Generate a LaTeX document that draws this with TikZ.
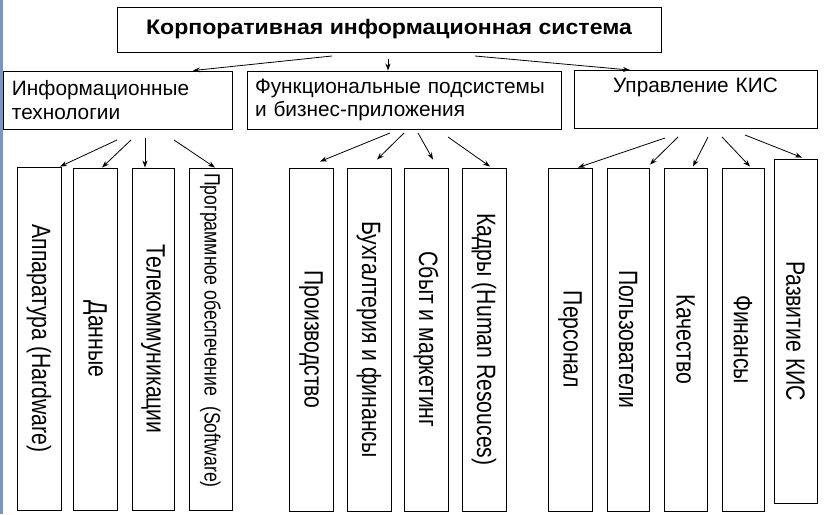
\documentclass[tikz,border=0pt]{standalone}
\usepackage{graphicx}
\usepackage{fontspec}
\setmainfont{Liberation Sans}
\usetikzlibrary{arrows.meta,calc}
\definecolor{stripblue}{RGB}{120,150,190}
\newcommand{\stretchv}[1]{\scalebox{1}[1.25]{#1}}
\begin{document}
\begin{tikzpicture}[x=1pt,y=-1pt,
  hbox/.style={draw, line width=0.9pt, inner ysep=0pt},
  vbox/.style={draw, line width=0.9pt, rotate=-90, inner sep=0pt,
    minimum height=44pt, font=\fontsize{21.2}{24}\selectfont},
  arr/.style={line width=0.8pt, -{Stealth[length=7pt,width=5pt]}}]
\useasboundingbox (0,0) rectangle (829,514);
\fill[stripblue] (0,0) rectangle (3,514);
% top
\node[hbox, minimum width=544pt, minimum height=45pt, font=\fontsize{21}{24}\selectfont\bfseries] (T) at (389,29.5) {\scalebox{1.1}[1]{Корпоративная информационная система}};
% level 2
\node[hbox, minimum height=58pt, inner xsep=9pt, text width=211pt, align=left, font=\fontsize{20.8}{23.5}\selectfont] (L) at (117.5,100) {\raisebox{-2pt}{Информационные}\\\raisebox{-2pt}{технологии}};
\node[hbox, minimum height=58pt, inner xsep=8pt, text width=298pt, align=left, font=\fontsize{20.8}{23.5}\selectfont] (M) at (404,100) {\raisebox{-2pt}{Функциональные подсистемы}\\\raisebox{-2pt}{и бизнес-приложения}};
\node[hbox, minimum height=58pt, inner xsep=0pt, text width=243pt, align=center, font=\fontsize{20.8}{23.5}\selectfont] (R) at (695.5,99.5) {\raisebox{-3pt}{Управление КИС}\\\strut};
% vertical boxes
\node[vbox, minimum width=343pt] (a1) at (39,338.5) {\stretchv{Аппаратура (Hardware)}};
\node[vbox, minimum width=342pt] (a2) at (95,339) {\stretchv{Данные}};
\node[vbox, minimum width=342pt, minimum height=42pt] (a3) at (153,339) {\stretchv{Телекоммуникации}};
\node[vbox, minimum width=342pt, minimum height=43pt, font=\fontsize{17.7}{20}\selectfont] (a4) at (210.5,339) {\stretchv{Программное обеспечение~~(Software)\hspace{17pt}}};
\node[vbox, minimum width=343pt] (b1) at (311,339.5) {\stretchv{Производство}};
\node[vbox, minimum width=343pt] (b2) at (369,339.5) {\stretchv{Бухгалтерия и финансы}};
\node[vbox, minimum width=343pt] (b3) at (426,339.5) {\stretchv{Сбыт и маркетинг}};
\node[vbox, minimum width=343pt] (b4) at (484,339.5) {\stretchv{Кадры (Human Resouces)}};
\node[vbox, minimum width=343pt] (c1) at (570,339.5) {\stretchv{Персонал}};
\node[vbox, minimum width=343pt, minimum height=42pt] (c2) at (628,339.5) {\stretchv{Пользователи}};
\node[vbox, minimum width=343pt, minimum height=43pt] (c3) at (685.5,339.5) {\stretchv{Качество}};
\node[vbox, minimum width=343pt, minimum height=42pt] (c4) at (743,339.5) {\stretchv{Финансы}};
\node[vbox, minimum width=344pt, minimum height=43pt] (c5) at (795.5,331) {\stretchv{Развитие КИС}};
% connector starts
\coordinate (t1) at (332,56);
\coordinate (t2) at (388,59);
\coordinate (t3) at (475,56);
\coordinate (l1) at (117,140);
\coordinate (l2) at (131,140);
\coordinate (l3) at (145,138);
\coordinate (l4) at (174,140);
\coordinate (m1) at (390,133);
\coordinate (m2) at (404,133);
\coordinate (m3) at (418,133);
\coordinate (m4) at (448,137);
\coordinate (r1) at (665,138);
\coordinate (r2) at (678,137);
\coordinate (r3) at (708,137);
\coordinate (r4) at (722,137);
\coordinate (r5) at (745,135);
% connectors
\draw[arr] (t1) -- ($(L.north)+(75.5,0)$);
\draw[arr] (t2) -- ($(M.north)+(-16,0)$);
\draw[arr] (t3) -- ($(R.north)+(-65.5,0)$);
\draw[arr] (l1) -- ($(a1.west)+(21,0)$);
\draw[arr] (l2) -- ($(a2.west)+(7,0)$);
\draw[arr] (l3) -- ($(a3.west)+(-8,0)$);
\draw[arr] (l4) -- ($(a4.west)+(4.5,0)$);
\draw[arr] (m1) -- ($(b1.west)+(9,-6)$);
\draw[arr] (m2) -- ($(b2.west)+(8,-8)$);
\draw[arr] (m3) -- ($(b3.west)+(7,-8)$);
\draw[arr] (m4) -- ($(b4.west)+(6,-1)$);
\draw[arr] (r1) -- ($(c1.west)+(8,0)$);
\draw[arr] (r2) -- ($(c2.west)+(22,-3)$);
\draw[arr] (r3) -- ($(c3.west)+(7.5,-1)$);
\draw[arr] (r4) -- ($(c4.west)+(7,-1)$);
\draw[arr] (r5) -- ($(c5.west)+(6.5,-1)$);
\end{tikzpicture}
\end{document}
